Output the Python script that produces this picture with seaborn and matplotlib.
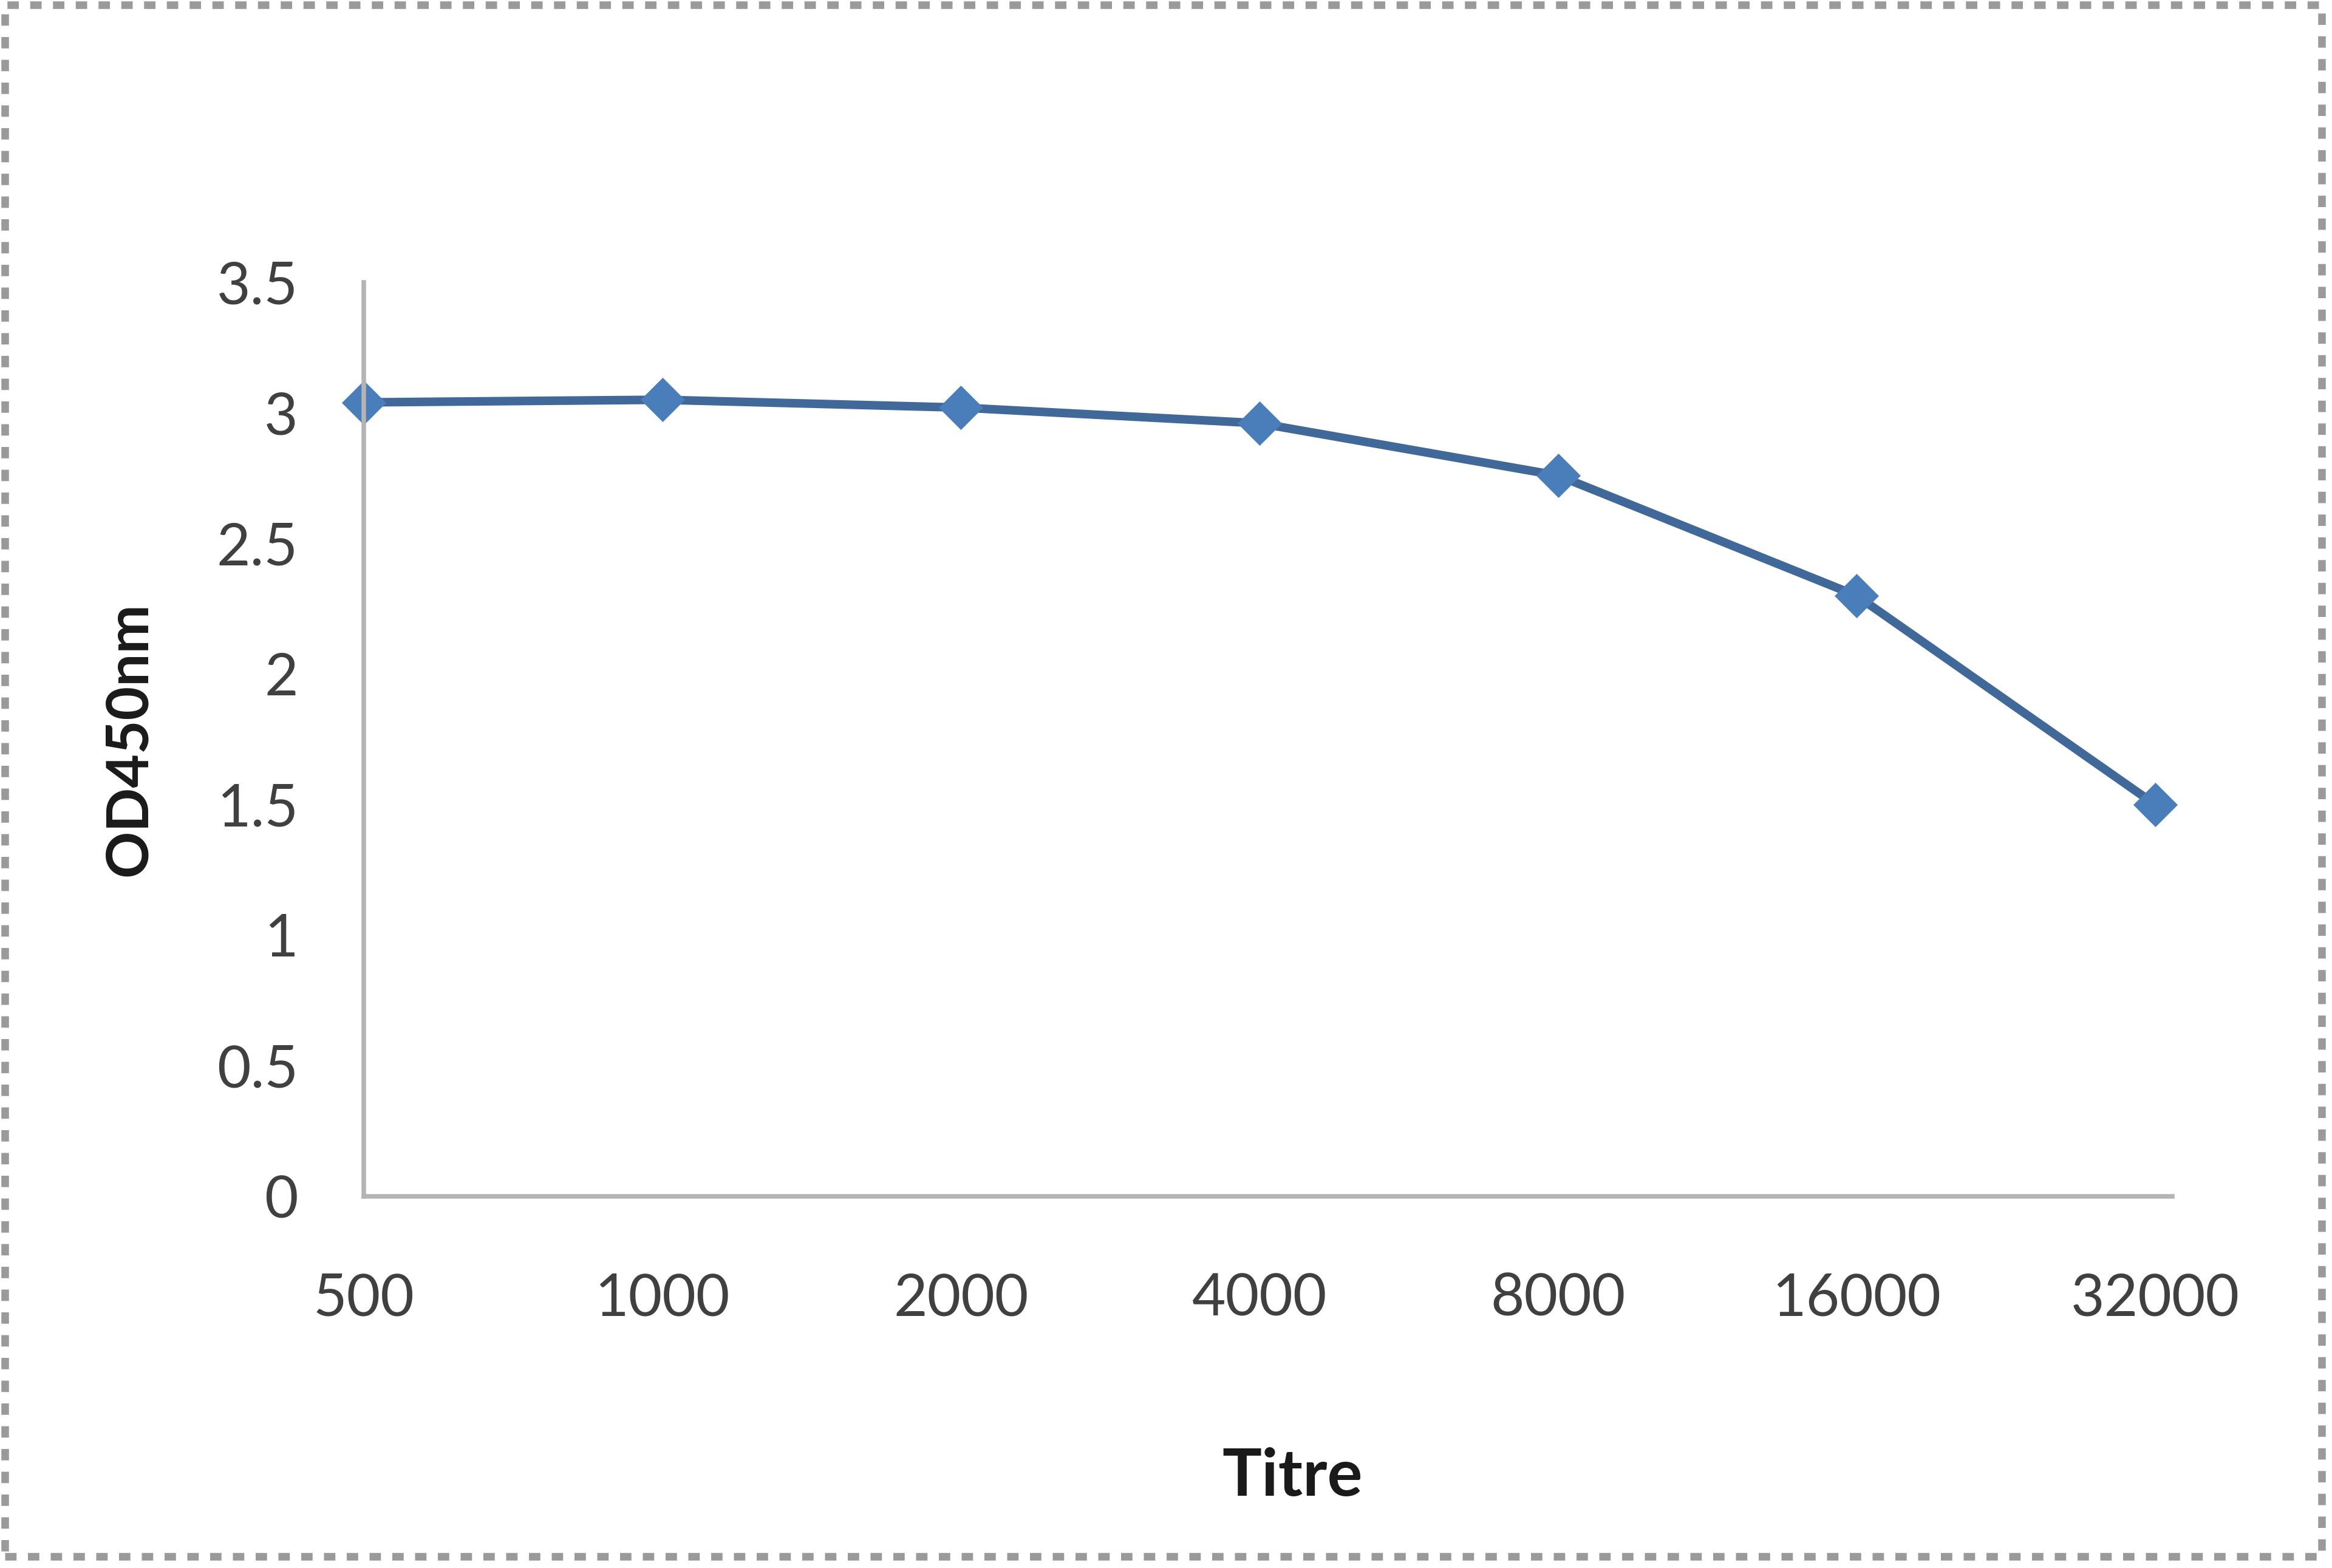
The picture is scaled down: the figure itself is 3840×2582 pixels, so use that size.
import pandas as pd
import seaborn as sns
import matplotlib.pyplot as plt
from matplotlib.patches import Rectangle

# ============ data ============
titre = ["500", "1000", "2000", "4000", "8000", "16000", "32000"]
od450 = [3.04, 3.05, 3.02, 2.96, 2.76, 2.30, 1.50]
y_ticks = [0, 0.5, 1, 1.5, 2, 2.5, 3, 3.5]
y_tick_labels = ["0", "0.5", "1", "1.5", "2", "2.5", "3", "3.5"]

df = pd.DataFrame({"titre": titre, "od": od450})

sns.set_theme(style="white")
plt.rcParams["font.family"] = ["Lato", "DejaVu Sans"]

fig = plt.figure(figsize=(12.8, 8.6067), dpi=300)
ax = fig.add_axes([0.156, 0.237, 0.7755, 0.583])

sns.pointplot(
    data=df, x="titre", y="od", ax=ax,
    color="#40699A", markers="D", linestyles="-", errorbar=None,
    markersize=10, linewidth=3.4,
    markerfacecolor="#4A7EBB", markeredgecolor="#4A7EBB",
)
for ln in ax.lines:
    ln.set_clip_on(False)

ax.set_xlim(0, 6.057)
ax.set_ylim(0, 3.5)
ax.set_yticks(y_ticks)
ax.set_yticklabels(y_tick_labels)

ax.tick_params(axis="both", length=0, labelsize=23, labelcolor="#404040")
ax.tick_params(axis="x", pad=30)
ax.tick_params(axis="y", pad=26)

for side in ["top", "right"]:
    ax.spines[side].set_visible(False)
for side in ["left", "bottom"]:
    ax.spines[side].set_color("#B4B4B4")
    ax.spines[side].set_linewidth(1.8)

ax.set_xlabel("Titre", fontsize=26, fontweight="bold", color="#1a1a1a")
ax.xaxis.set_label_coords(0.5136, -0.274)
ax.set_ylabel("OD450nm", fontsize=23, fontweight="bold", color="#1a1a1a", labelpad=24)
ax.grid(False)

# dotted picture frame round the whole image
frame = Rectangle((0.002, 0.0074), 0.9936, 0.9895, transform=fig.transFigure,
                  fill=False, edgecolor="#9A9A9A", linewidth=3,
                  linestyle=(0, (1.5, 1.5)), clip_on=False)
fig.patches.append(frame)

fig.savefig("out.png", dpi=300, facecolor="white")
